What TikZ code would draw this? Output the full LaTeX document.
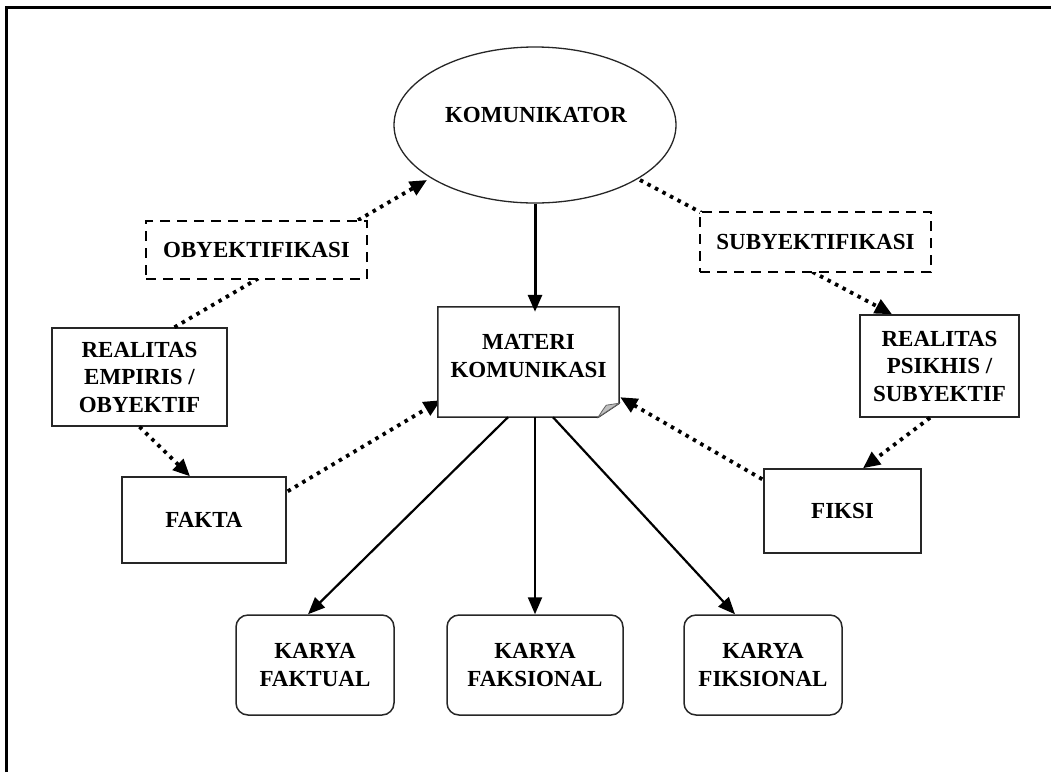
\documentclass[tikz,border=0pt]{standalone}
\usepackage{fontspec}
\setmainfont{Liberation Serif}
\usetikzlibrary{arrows.meta,shapes.geometric,calc}

\begin{document}
\begin{tikzpicture}[x=1pt,y=-1pt,
  lbl/.style={font=\fontsize{23}{27.5}\selectfont\bfseries, align=center, inner sep=0pt},
  box/.style={lbl, draw=black!85, line width=1.5pt, fill=white},
  rbox/.style={box, rounded corners=12pt},
  dbox/.style={lbl, draw=black, line width=2.8pt, dash pattern=on 10pt off 7pt, fill=white},
  dotarrow/.style={line width=3.8pt, dash pattern=on 3.5pt off 5pt,
    -{Triangle[length=17pt,width=15pt]}},
  solidarrow/.style={line width=2.2pt, -{Triangle[length=17pt,width=14pt]}},
]
\useasboundingbox (0,0) rectangle (1051,772);

% frame along the top and left edges
\draw[line width=3pt] (6,772) -- (6,7) -- (1051,7);

% nodes
\node[draw=black!85, line width=1.3pt, ellipse, minimum width=282pt, minimum height=156pt, inner sep=0pt] (kom) at (535,125) {};
\node[lbl] (komtext) at (536,115) {KOMUNIKATOR};

\node[minimum width=181pt, minimum height=110pt, inner sep=0pt] (mat) at (528.5,362) {};

\node[box, minimum width=175pt, minimum height=98pt] (re) at (139.5,377) {REALITAS\\EMPIRIS /\\OBYEKTIF};
\node[box, minimum width=159pt, minimum height=102pt] (rp) at (939.5,366) {REALITAS\\PSIKHIS /\\SUBYEKTIF};
\node[box, minimum width=164pt, minimum height=86pt] (fakta) at (204,520) {FAKTA};
\node[box, minimum width=157pt, minimum height=84pt] (fiksi) at (842.5,511) {FIKSI};

\node[rbox, minimum width=158pt, minimum height=100pt] (kf1) at (315,665) {KARYA\\FAKTUAL};
\node[rbox, minimum width=176pt, minimum height=100pt] (kf2) at (535,665) {KARYA\\FAKSIONAL};
\node[rbox, minimum width=158pt, minimum height=100pt] (kf3) at (763,665) {KARYA\\FIKSIONAL};

% dotted connectors (drawn below the dashed labels)
\draw[dotarrow] ([xshift=35pt]re.north) -- ($(kom.center)+(-108,55)$);
\draw[dotarrow] ($(kom.center)+(105,55)$) -- ([xshift=-47.5pt]rp.north);
\draw[dotarrow] (re.south) -- ([xshift=-14pt]fakta.north);
\draw[dotarrow] ($(fakta.north east)+(1,15)$) -- ($(mat.south west)+(3,-17)$);
\draw[dotarrow] ([xshift=-9.5pt]rp.south) -- ([xshift=20.5pt]fiksi.north);
\draw[dotarrow] ($(fiksi.north west)+(-1,11)$) -- ($(mat.south east)+(1,-20)$);

% dashed process labels
\node[dbox, minimum width=221pt, minimum height=58pt] (oby) at (256.5,250) {OBYEKTIFIKASI};
\node[dbox, minimum width=231pt, minimum height=60pt] (suby) at (815.5,242) {SUBYEKTIFIKASI};

% central box with folded corner
\draw[draw=black!85, line width=1.5pt, fill=white]
  (mat.north west) -- (mat.north east) -- ($(mat.south east)+(0,-14)$)
  -- ($(mat.south east)+(-21,0)$) -- (mat.south west) -- cycle;
\filldraw[fill=black!25, draw=black!60, line width=0.8pt]
  ($(mat.south east)+(-21,0)$) .. controls ($(mat.south east)+(-16,-8)$) .. ($(mat.south east)+(-13,-12)$)
  -- ($(mat.south east)+(0,-14)$) -- cycle;
\node[lbl] (mattext) at (528.5,356) {MATERI\\KOMUNIKASI};

% solid connectors
\draw[solidarrow, line width=3pt, shorten >=-5pt] (kom.south) -- (kom.south |- mat.north);
\draw[solidarrow] ([xshift=-20.5pt]mat.south) -- ([xshift=-7pt]kf1.north);
\draw[solidarrow] ([xshift=6.5pt]mat.south) -- (kf2.north);
\draw[solidarrow] ([xshift=24.5pt]mat.south) -- ([xshift=-28pt]kf3.north);
\end{tikzpicture}
\end{document}
